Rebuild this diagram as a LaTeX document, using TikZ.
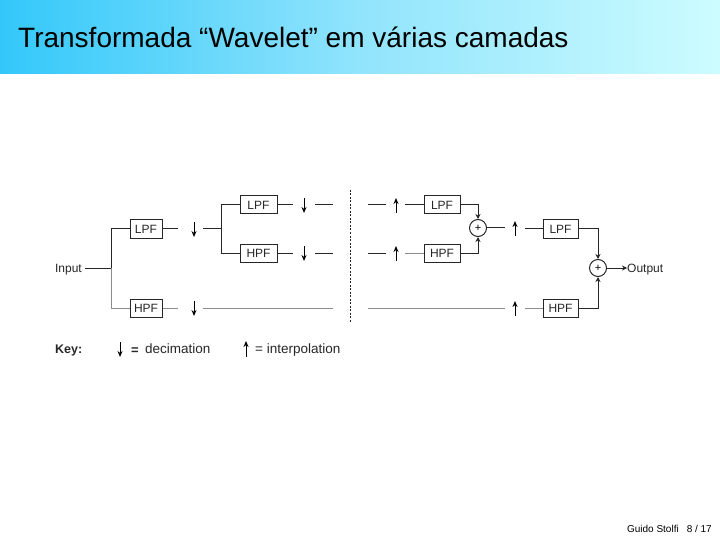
\documentclass[tikz,border=0pt]{standalone}
\usepackage{fontspec}
\setmainfont{Liberation Sans}
\usetikzlibrary{arrows.meta}
\definecolor{hdA}{RGB}{51,200,250}
\definecolor{hdB}{RGB}{145,228,252}
\definecolor{hdC}{RGB}{205,252,255}
\begin{document}
\begin{tikzpicture}[x=1pt,y=-1pt,
 filt/.style={draw=black!85, line width=1pt, minimum height=18pt, inner sep=0pt, font=\fontsize{12}{12}\selectfont, text=black!85},
 wire/.style={draw=black!85, line width=1pt},
 lwire/.style={draw=black!45, line width=1pt},
 rate/.style={draw=black, line width=1pt, -{Stealth[length=6pt,width=5pt]}},
 tip/.style={-{Stealth[length=5pt,width=5pt]}},
 sum/.style={circle, draw=black!85, line width=1pt, minimum size=17pt, inner sep=0pt, font=\fontsize{11}{11}\selectfont},
 lbl/.style={font=\fontsize{12}{12}\selectfont, inner sep=0pt, text=black!85},
 keytxt/.style={anchor=base west, inner sep=0pt, font=\fontsize{13.5}{14}\selectfont, text=black!85}]
\useasboundingbox (0,0) rectangle (720,540);
\shade[left color=hdA, right color=hdB] (0,0) rectangle (360,74);
\shade[left color=hdB, right color=hdC] (360,0) rectangle (720.5,74);
\node[anchor=base west, inner sep=0pt, font=\fontsize{28}{30}\selectfont] (title) at (18,48) {Transformada “Wavelet” em várias camadas};

% left half
\node[lbl, anchor=east] (in) at (82,269.5) {Input};
\coordinate (sp1) at (111,268);
\node[filt, minimum width=32pt] (lpf1) at (146,229) {LPF};
\node[filt, minimum width=32pt] (hpf1) at (146,308) {HPF};
\draw[wire] ([xshift=3pt]in.east |- sp1) -- (sp1);
\draw[wire] (sp1) |- (lpf1);
\draw[lwire] (sp1) |- (hpf1);

\coordinate (a1e) at (178,229);
\coordinate (d1t) at (194,222); \coordinate (d1b) at (194,237);
\coordinate (a1s) at (203,229);
\coordinate (sp2) at (221,229);
\draw[wire] (lpf1) -- (a1e);
\draw[rate] (d1t) -- (d1b);
\draw[wire] (a1s) -- (sp2);

\node[filt, minimum width=37pt] (lpf2) at (258.5,205) {LPF};
\node[filt, minimum width=37pt] (hpf2) at (258.5,253) {HPF};
\draw[wire] (sp2) |- (lpf2);
\draw[wire] (sp2) |- (hpf2);

\coordinate (a2e) at (293,205);
\coordinate (d2t) at (304,198); \coordinate (d2b) at (304,213);
\coordinate (a2s) at (315,205); \coordinate (a2f) at (333,205);
\draw[wire] (lpf2) -- (a2e);
\draw[rate] (d2t) -- (d2b);
\draw[wire] (a2s) -- (a2f);

\coordinate (a3e) at (293,253);
\coordinate (d3t) at (304,246); \coordinate (d3b) at (304,261);
\coordinate (a3s) at (315,253); \coordinate (a3f) at (333,253);
\draw[wire] (hpf2) -- (a3e);
\draw[rate] (d3t) -- (d3b);
\draw[wire] (a3s) -- (a3f);

\coordinate (a4e) at (178,308);
\coordinate (d4t) at (194,301); \coordinate (d4b) at (194,316);
\coordinate (a4s) at (203,308); \coordinate (a4f) at (333,308);
\draw[lwire] (hpf1) -- (a4e);
\draw[rate] (d4t) -- (d4b);
\draw[lwire] (a4s) -- (a4f);

% separator
\coordinate (sepT) at (350,190); \coordinate (sepB) at (350,323);
\draw[black!85, line width=1pt, dash pattern=on 2pt off 1.5pt] (sepT) -- (sepB);

% right half
\node[filt, minimum width=36pt] (lpf3) at (442,205) {LPF};
\node[filt, minimum width=36pt] (hpf3) at (442,253) {HPF};
\node[sum] (s1) at (478,228) {\raisebox{-0.8pt}{+}};
\coordinate (b1s) at (368,205); \coordinate (b1e) at (386,205);
\coordinate (u1b) at (396,213); \coordinate (u1t) at (396,198);
\coordinate (b1t) at (405,205);
\draw[wire] (b1s) -- (b1e);
\draw[rate] (u1b) -- (u1t);
\draw[wire] (b1t) -- (lpf3);
\draw[wire, tip] (lpf3) -| (s1);

\coordinate (b2s) at (368,253); \coordinate (b2e) at (386,253);
\coordinate (u2b) at (396,261); \coordinate (u2t) at (396,246);
\coordinate (b2t) at (405,253);
\draw[wire] (b2s) -- (b2e);
\draw[rate] (u2b) -- (u2t);
\draw[lwire] (b2t) -- (hpf3);
\draw[wire, tip] (hpf3) -| (s1);

\node[filt, minimum width=35pt] (lpf4) at (560.5,229) {LPF};
\node[filt, minimum width=35pt] (hpf4) at (560.5,308) {HPF};
\node[sum] (s2) at (598,268) {\raisebox{-0.8pt}{+}};
\coordinate (b3e) at (505,228);
\coordinate (u3b) at (515,236); \coordinate (u3t) at (515,221);
\coordinate (b3t) at (525,229);
\draw[wire] (s1) -- (b3e);
\draw[rate] (u3b) -- (u3t);
\draw[wire] (b3t) -- (lpf4);
\draw[wire, tip] (lpf4) -| (s2);

\coordinate (b4s) at (368,308); \coordinate (b4e) at (505,308);
\coordinate (u4b) at (515,316); \coordinate (u4t) at (515,301);
\coordinate (b4t) at (525,308);
\draw[lwire] (b4s) -- (b4e);
\draw[rate] (u4b) -- (u4t);
\draw[lwire] (b4t) -- (hpf4);
\draw[wire, tip] (hpf4) -| (s2);

\node[lbl, anchor=west] (out) at (627,269.5) {Output};
\draw[wire, tip] (s2) -- (out.west |- s2);

% key
\node[keytxt, font=\bfseries\fontsize{12.5}{13}\selectfont] (key) at (55,353) {Key:};
\coordinate (k1t) at (120,342); \coordinate (k1b) at (120,357);
\draw[rate] (k1t) -- (k1b);
\node[keytxt, font=\bfseries\fontsize{13}{13}\selectfont] (keq) at (131,354) {=};
\node[keytxt] (kdec) at (145,353) {decimation};
\coordinate (k2b) at (246,357); \coordinate (k2t) at (246,341);
\draw[rate] (k2b) -- (k2t);
\node[keytxt] (kint) at (255,353) {= interpolation};

% footer
\node[anchor=base east, inner sep=0pt, font=\fontsize{10}{11}\selectfont] (foot) at (712,532) {Guido Stolfi\hspace{8pt}8 / 17};
\end{tikzpicture}
\end{document}
